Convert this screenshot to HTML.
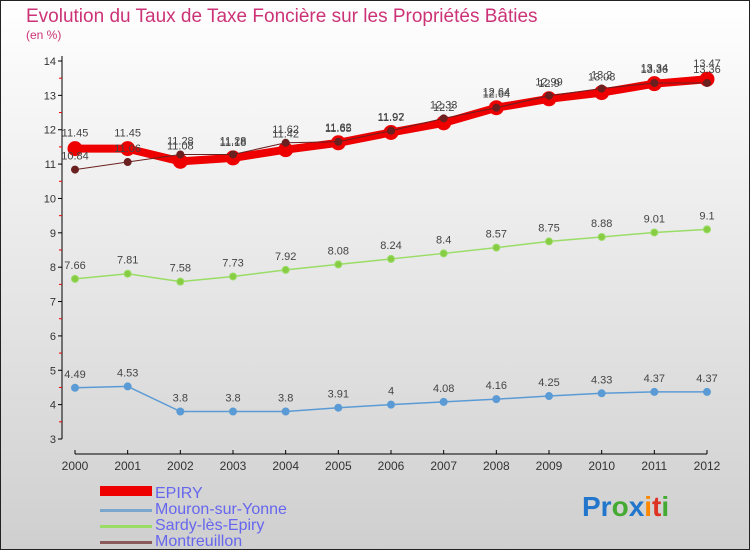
<!DOCTYPE html>
<html><head><meta charset="utf-8"><style>
body{margin:0;width:750px;height:550px;overflow:hidden;font-family:"Liberation Sans",sans-serif}
</style></head><body>
<svg width="750" height="550" xmlns="http://www.w3.org/2000/svg">
<defs><linearGradient id="bg" x1="0" y1="0" x2="0" y2="1"><stop offset="0" stop-color="#ffffff"/><stop offset="1" stop-color="#cfcfcf"/></linearGradient></defs>
<rect x="0.5" y="0.5" width="749" height="549" fill="url(#bg)" stroke="#222"/>
<text x="26" y="22" font-size="19" fill="#cc3377">Evolution du Taux de Taxe Foncière sur les Propriétés Bâties</text>
<text x="26" y="39" font-size="12" fill="#cc3377">(en %)</text>
<g id="axes"></g><g id="series"></g>
<g font-size="16" fill="#6666ee">
<rect x="100" y="486" width="52" height="10" fill="#ee0000"/><text x="155" y="498">EPIRY</text>
<rect x="100" y="509" width="52" height="3" fill="#7ba7cc"/><text x="155" y="514">Mouron-sur-Yonne</text>
<rect x="100" y="525" width="52" height="3" fill="#99dd66"/><text x="155" y="530">Sardy-lès-Epiry</text>
<rect x="100" y="541" width="52" height="3" fill="#8b5a5a"/><text x="155" y="546">Montreuillon</text>
</g>
<text x="582" y="516" font-size="28" font-weight="bold"><tspan fill="#2277cc">Pr</tspan><tspan fill="#44aa33">o</tspan><tspan fill="#2277cc">x</tspan><tspan fill="#ff8800">i</tspan><tspan fill="#dd3322">t</tspan><tspan fill="#44aa33">i</tspan></text>
</svg>
<script>
const years=[2000,2001,2002,2003,2004,2005,2006,2007,2008,2009,2010,2011,2012];
const yTicks=[3,4,5,6,7,8,9,10,11,12,13,14];
const epiry=[11.45,11.45,11.08,11.18,11.42,11.62,11.92,12.2,12.64,12.9,13.08,13.34,13.47];
const mouron=[4.49,4.53,3.8,3.8,3.8,3.91,4,4.08,4.16,4.25,4.33,4.37,4.37];
const sardy=[7.66,7.81,7.58,7.73,7.92,8.08,8.24,8.4,8.57,8.75,8.88,9.01,9.1];
const montre=[10.84,11.06,11.28,11.28,11.62,11.65,11.97,12.33,12.64,12.99,13.2,13.36,13.36];
const NS="http://www.w3.org/2000/svg";
const X=i=>75+i*(707-75)/(years.length-1);
const Y=v=>439-(v-3)*(439-61)/11;
function mk(t,a,p){const e=document.createElementNS(NS,t);for(const k in a)e.setAttribute(k,a[k]);p.appendChild(e);return e;}
const ax=document.getElementById('axes'),sg=document.getElementById('series');
const yl=mk('line',{x1:62,y1:56,x2:62,y2:439,stroke:'#000'},ax);


const xl=mk('line',{x1:75,y1:454,x2:707,y2:454,stroke:'#000'},ax);


yTicks.forEach(v=>{
  mk('line',{x1:58,y1:Y(v),x2:62,y2:Y(v),stroke:'#000'},ax);
  if(v<14)mk('line',{x1:59,y1:Y(v+0.5),x2:62,y2:Y(v+0.5),stroke:'#e00'},ax);
  const t=mk('text',{x:56,y:Y(v)+4,'font-size':11,'text-anchor':'end',fill:'#333'},ax);
  
  
  t.textContent=v;
});
years.forEach((y,i)=>{
  mk('line',{x1:X(i),y1:450,x2:X(i),y2:454,stroke:'#000'},ax);
  const t=mk('text',{x:X(i),y:470,'font-size':12,'text-anchor':'middle',fill:'#333'},ax);
  
  
  t.textContent=y;
});
function series(name,vals,color,w,r,fill,labelDy){
  const g=mk('g',{},sg);
  
  
  mk('polyline',{points:vals.map((v,i)=>X(i)+','+Y(v)).join(' '),fill:'none',stroke:color,'stroke-width':w,'stroke-linejoin':'round'},g);
  vals.forEach((v,i)=>{
    const c=mk('circle',{cx:X(i),cy:Y(v),r:r,fill:fill,stroke:color,'stroke-width':1},g);
    
    
    const t=mk('text',{x:X(i),y:Y(v)+labelDy,'font-size':11,'text-anchor':'middle',fill:'#444'},g);
    
    
    t.textContent=v;
  });
}
series('mouron-series',mouron,'#5b9bd5',1.5,3.5,'#5b9bd5',-10);
series('sardy-series',sardy,'#99dd66',1.5,3.5,'#88cc44',-10);
series('epiry-series',epiry,'#ee0000',8,7,'#ee0000',-12);
series('montreuillon-series',montre,'#6b2020',1,3.5,'#6b2020',-10);
</script>
</body></html>
